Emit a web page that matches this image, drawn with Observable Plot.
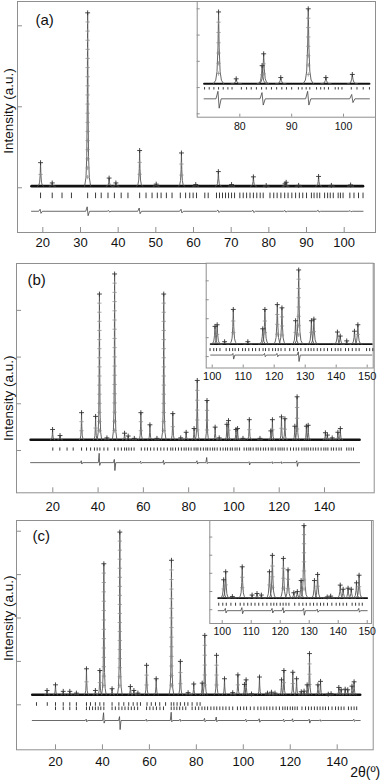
<!DOCTYPE html>
<html><head><meta charset="utf-8">
<script src="https://cdn.jsdelivr.net/npm/d3@7"></script>
<script src="https://cdn.jsdelivr.net/npm/@observablehq/plot@0.6"></script>
<style>
body{margin:0;background:#fff;font-family:"Liberation Sans",Arial,sans-serif;}
#wrap{position:relative;width:382px;height:780px;overflow:hidden;background:#fff;}
#wrap > div{position:absolute;}
svg{background:transparent !important;}
</style></head><body><div id="wrap"></div>
<script>
// ---------- DATA (2θ in degrees, intensity in arbitrary counts) ----------
const yLabel = "Intensity (a.u.)";
const xTitle = "2θ(º)";

// Panel (a)
const bgA = 20;
const rangeA = [17.0, 105.0];
const peaksA = [[19.4,310],[22.5,60],[31.9,2160],[37.6,120],[39.4,60],[45.7,460],[50.1,45],[56.8,430],[60.6,40],[66.6,200],[70.1,40],[75.9,135],[79.3,28],[84.3,49],[84.6,68],[87.9,30],[93.2,140],[96.6,30],[101.7,35]];
const reflA = [19.4,22.5,25.1,27.6,31.9,34.0,35.5,37.3,39.0,40.8,42.6,45.7,47.4,49.0,50.4,51.4,52.8,54.3,56.5,57.9,59.0,59.9,60.8,63.0,63.9,66.1,66.9,67.7,68.5,69.3,70.1,70.9,72.3,73.2,74.1,75.0,75.9,76.8,77.7,78.5,80.3,81.3,82.2,83.2,84.2,85.1,86.1,87.1,88.1,89.0,90.0,91.3,92.0,92.8,93.5,94.8,95.6,96.3,97.1,98.4,99.0,99.7,101.5,102.6,103.8,105.0];
const diffA = [[19.4,25,-25],[31.9,55,-55],[37.6,10,-10],[45.7,40,-30],[56.8,25,-20],[66.6,15,-15],[75.9,12,-15],[84.4,10,-10],[93.2,12,-10],[101.7,7,-6]];
const xTicksA = [20,30,40,50,60,70,80,90,100];
const yTicksA = [0,1000,2000];
const rangeInsetA = [73.1, 105.0];
const xTicksInsetA = [80,90,100];
const yTicksInsetA = [-28,14,56,98,140];

// Panel (b)
const bgB = 230;
const rangeB = [10.2, 155.5];
const peaksB = [[19.9,450],[23.2,320],[32.7,810],[38.9,730],[40.6,3350],[43.9,270],[47.3,3780],[51.7,370],[53.3,310],[56.0,260],[58.9,810],[62.9,550],[66.0,260],[69.0,3350],[73.0,790],[76.5,270],[78.9,390],[82.4,470],[83.8,1500],[88.1,1070],[91.7,500],[93.5,270],[96.9,560],[97.6,640],[100.9,450],[101.6,470],[104.0,260],[106.8,660],[111.5,260],[116.3,420],[117.0,660],[121.0,720],[122.5,680],[126.9,520],[127.9,1150],[132.0,520],[132.8,540],[140.4,380],[141.3,330],[143.4,270],[145.9,390],[147.0,470]];
const reflB = [20.0,23.1,26.3,29.0,32.7,34.9,36.7,38.4,39.6,40.8,42.6,44.3,47.3,48.8,50.3,51.7,52.6,53.6,54.7,55.9,59.1,60.6,61.8,63.2,64.7,66.2,67.7,69.1,70.6,72.1,73.0,74.2,75.5,76.8,78.0,78.9,80.0,81.1,82.4,83.3,84.1,85.3,86.5,87.6,88.4,89.5,90.6,91.5,92.6,94.0,95.2,96.3,97.2,98.4,99.3,100.5,101.4,102.5,104.5,105.6,106.6,107.4,108.5,109.8,110.7,111.8,113.0,114.0,115.2,116.4,117.2,118.3,119.5,120.4,121.3,122.2,123.5,125.0,126.3,127.5,128.6,130.0,131.0,131.9,132.8,133.9,135.0,136.1,137.2,138.5,139.7,140.6,141.5,143.0,144.0,145.2,146.4,147.4,149.8,150.8,151.8,152.8];
const diffB = [[32.7,40,-30],[40.6,200,-60],[47.3,70,-170],[58.9,30,-20],[69.0,50,-40],[83.8,40,-30],[88.1,110,-20],[106.8,20,-50],[117.0,20,-20],[121.0,20,-20],[127.9,40,-80]];
const xTicksB = [20,40,60,80,100,120,140];
const yTicksB = [0,1000,2000,3000];
const rangeInsetB = [99.5, 151.5];
const xTicksInsetB = [100,110,120,130,140,150];
const yTicksInsetB = [75,310,545,780,1015];

// Panel (c)
const bgC = 230;
const rangeC = [10.1, 149.8];
const peaksC = [[16.4,330],[20.0,460],[23.3,310],[26.1,310],[28.9,270],[33.2,830],[37.0,330],[38.9,790],[40.6,3250],[44.1,370],[47.4,3980],[51.9,420],[53.4,330],[55.1,270],[58.8,910],[62.9,600],[69.4,3330],[73.2,1000],[76.5,280],[78.9,480],[82.5,500],[83.6,1600],[88.6,1140],[92.0,600],[95.5,280],[97.7,690],[100.5,470],[101.2,575],[103.5,250],[106.9,640],[110.3,270],[112.0,290],[113.5,270],[116.3,575],[117.3,790],[121.1,750],[122.7,600],[124.7,300],[125.9,315],[127.2,460],[128.2,1180],[131.8,460],[132.9,540],[136.2,245],[137.4,256],[140.7,400],[141.7,346],[143.4,360],[144.5,346],[146.3,430],[147.2,530]];
const reflC1 = [11.9,16.5,20.0,23.3,26.1,28.9,33.2,34.9,37.0,38.9,40.6,44.1,47.0,49.1,51.2,53.1,54.8,56.2,59.0,60.8,62.6,64.4,66.9,69.3,70.4,71.8,73.2,75.0,76.4,78.2,80.3,81.6];
const reflC2 = [20.0,23.3,26.1,28.9,33.2,34.5,35.8,37.0,38.2,39.3,40.6,44.1,45.5,47.0,48.3,49.6,51.0,52.3,53.6,55.0,58.8,60.2,61.6,63.0,64.5,66.0,69.3,70.5,71.7,72.9,74.2,75.5,78.2,79.6,81.0,82.4,83.6,84.8,86.2,87.5,88.7,90.0,91.3,92.6,94.0,95.5,97.5,98.8,100.2,101.4,103.0,104.6,106.2,107.5,108.8,110.0,111.3,112.6,114.0,115.4,116.8,117.8,118.8,120.0,121.0,122.0,123.0,125.0,126.5,127.8,129.0,130.3,131.5,132.7,133.9,135.0,136.3,137.8,139.3,140.5,141.7,142.9,144.8,146.0,147.2,148.3];
const diffC = [[33.2,30,-30],[40.6,180,-60],[47.4,90,-210],[58.8,30,-20],[69.4,190,-30],[73.2,30,-20],[83.6,50,-30],[88.6,80,-30],[101.2,30,-30],[106.9,40,-40],[117.3,30,-30],[121.1,40,-30],[128.2,30,-60],[132.9,20,-20],[147.2,30,-20]];
const xTicksC = [20,40,60,80,100,120,140];
const yTicksC = [0,1000,2000,3000,4000];
const rangeInsetC = [98.6, 150.0];
const xTicksInsetC = [100,110,120,130,140,150];
const yTicksInsetC = [78,316,555,792,1030];

// ---------- DRAWING ----------
const FONT = "'Liberation Sans', Arial, sans-serif";
const FRAME = "#8f8f8f";
const SHAPE = [[-1,0],[-0.55,0.05],[-0.3,0.17],[-0.12,0.5],[0,1],[0.12,0.5],[0.3,0.17],[0.55,0.05],[1,0]];
const wrap = document.getElementById("wrap");

function panel(o) {
  const mL = o.fx0 - o.left, mR = o.left + o.width - o.fx1;
  const mT = o.fy0 - o.top, mB = o.top + o.height - o.fy1;
  const iw = o.fx1 - o.fx0, ih = o.fy1 - o.fy0;
  const pxPerY = ih / (o.yd[1] - o.yd[0]);
  const [xa, xb] = o.range;
  const pk = o.peaks.filter(([p]) => p >= xa && p <= xb);
  const shape = [];
  pk.forEach(([p, h], k) => {
    for (const [u, f] of SHAPE) shape.push({x: p + u * o.w, y: o.bg + f * (h - o.bg), k});
  });
  const tops = pk.map(([p, h]) => ({x: p, y: h}));
  const mids = pk.filter(([p, h]) => (h - o.bg) * pxPerY > 16).flatMap(([p, h]) => {
    const n = Math.floor((h - o.bg) * pxPerY / 9);
    return d3.range(1, n).map(i => ({x: p, y: o.bg + (i / n) * (h - o.bg)}));
  });
  const d0 = o.diffY;
  const dpts = [{x: xa, y: d0}];
  o.diff.filter(([p]) => p > xa + 0.5 && p < xb - 0.5).sort((a, b) => a[0] - b[0]).forEach(([p, up, dn]) => {
    dpts.push({x: p - 0.5, y: d0}, {x: p - 0.12, y: d0 + up}, {x: p + 0.12, y: d0 + dn}, {x: p + 0.5, y: d0});
  });
  dpts.push({x: xb, y: d0});
  const marks = [
    Plot.frame({fill: "white", stroke: FRAME, strokeWidth: 1}),
    Plot.ruleY(o.yTicks, {y: d => d, stroke: FRAME, insetRight: iw - o.tick}),
    Plot.ruleX(o.xTicks, {x: d => d, stroke: FRAME, insetTop: ih - o.tick}),
    Plot.axisX(o.xTicks, {tickSize: 0, tickPadding: o.pad, fontSize: o.fs, fill: "#111", fontFamily: FONT, tickFormat: d => String(d)}),
    Plot.line([{x: xa, y: o.bg}, {x: xb, y: o.bg}], {x: "x", y: "y", stroke: "#111", strokeWidth: o.bgw}),
    Plot.line(shape, {x: "x", y: "y", z: "k", stroke: "#555", strokeWidth: 0.9}),
    Plot.dot(mids, {x: "x", y: "y", symbol: "plus", r: 1.5, stroke: "#888", strokeWidth: 0.7}),
    Plot.dot(tops, {x: "x", y: "y", symbol: "plus", r: 1.7, stroke: "#333", strokeWidth: 0.9})
  ];
  for (const row of o.refl) {
    const list = row.list.filter(p => p >= xa - 0.5 && p <= xb + 0.5);
    const hl = row.len / pxPerY;
    marks.push(Plot.ruleX(list, {x: d => d, y1: () => row.y - hl, y2: () => row.y + hl, stroke: "#222", strokeWidth: 0.9}));
  }
  marks.push(Plot.line(dpts, {x: "x", y: "y", stroke: "#444", strokeWidth: 0.8}));
  if (o.tag) marks.push(Plot.text([o.tag.t], {frameAnchor: "top-left", dx: o.tag.dx, dy: o.tag.dy, fontSize: 15, textAnchor: "start", lineAnchor: "middle", fill: "#111", fontFamily: FONT}));
  if (o.ylab) marks.push(Plot.text([yLabel], {frameAnchor: "left", dx: o.ylab.dx, dy: o.ylab.dy, rotate: -90, fontSize: 13.5, textAnchor: "middle", lineAnchor: "middle", fill: "#111", fontFamily: FONT}));
  if (o.xtitle) marks.push(Plot.text([xTitle], {frameAnchor: "bottom-right", dx: o.xtitle.dx, dy: o.xtitle.dy, fontSize: 14, textAnchor: "middle", lineAnchor: "middle", fill: "#111", fontFamily: FONT}));
  const svg = Plot.plot({
    width: o.width, height: o.height,
    marginLeft: mL, marginRight: mR, marginTop: mT, marginBottom: mB,
    style: {background: "transparent", fontFamily: FONT, overflow: "visible"},
    x: {domain: o.xd, label: null},
    y: {domain: o.yd, axis: null},
    marks
  });
  const div = document.createElement("div");
  div.style.left = o.left + "px"; div.style.top = o.top + "px";
  div.appendChild(svg); wrap.appendChild(div);
}

// Panel (a) main
panel({left: 0, top: 0, width: 382, height: 252, fx0: 17, fx1: 375, fy0: 1, fy1: 232,
  xd: [13.28, 108.31], yd: [-552, 2300], range: rangeA, peaks: peaksA, bg: bgA, w: 0.8, bgw: 2.6,
  refl: [{list: reflA, y: -100, len: 2.8}], diff: diffA, diffY: -290,
  xTicks: xTicksA, yTicks: yTicksA, tick: 5, pad: 5, fs: 13,
  tag: {t: "(a)", dx: 18, dy: 19}, ylab: {dx: -9, dy: -6}});
// Panel (a) inset
panel({left: 190, top: 0, width: 192, height: 140, fx0: 196.7, fx1: 375, fy0: 1, fy1: 116.7,
  xd: [71.78, 106.17], yd: [-33.4, 151.7], range: rangeInsetA, peaks: peaksA, bg: bgA, w: 1.0, bgw: 2,
  refl: [{list: reflA, y: 12, len: 1.2}], diff: diffA, diffY: -4,
  xTicks: xTicksInsetA, yTicks: yTicksInsetA, tick: 3, pad: 5, fs: 10.5});

// Panel (b) main
panel({left: 0, top: 250, width: 382, height: 270, fx0: 16, fx1: 373.7, fy0: 263, fy1: 492.3,
  xd: [3.97, 161.95], yd: [-906, 4004], range: rangeB, peaks: peaksB, bg: bgB, w: 1.0, bgw: 2.6,
  refl: [{list: reflB, y: 20, len: 1.6}], diff: diffB, diffY: -260,
  xTicks: xTicksB, yTicks: yTicksB, tick: 5, pad: 9, fs: 13,
  tag: {t: "(b)", dx: 11, dy: 17}, ylab: {dx: -8, dy: 20}});
// Panel (b) inset
panel({left: 200, top: 255, width: 182, height: 140, fx0: 205.7, fx1: 372.7, fy0: 262.7, fy1: 367.5,
  xd: [98.06, 151.94], yd: [-66.3, 1233.7], range: rangeInsetB, peaks: peaksB, bg: bgB, w: 1.3, bgw: 1.8,
  refl: [{list: reflB, y: 156, len: 1.5}], diff: diffB, diffY: 94,
  xTicks: xTicksInsetB, yTicks: yTicksInsetB, tick: 3, pad: 4, fs: 11});

// Panel (c) main
panel({left: 0, top: 510, width: 382, height: 270, fx0: 16, fx1: 372.7, fy0: 520, fy1: 749.3,
  xd: [3.39, 155.34], yd: [-1037, 4247], range: rangeC, peaks: peaksC, bg: bgC, w: 1.0, bgw: 2.6,
  refl: [{list: reflC1, y: 7, len: 1.8}, {list: reflC2, y: -92, len: 1.8}], diff: diffC, diffY: -362,
  xTicks: xTicksC, yTicks: yTicksC, tick: 5, pad: 7, fs: 13,
  tag: {t: "(c)", dx: 16, dy: 15.5}, ylab: {dx: -8, dy: -17}, xtitle: {dx: -8, dy: 23}});
// Panel (c) inset
panel({left: 200, top: 512, width: 182, height: 140, fx0: 209.3, fx1: 371, fy0: 520, fy1: 623,
  xd: [95.72, 151.48], yd: [-103, 1247], range: rangeInsetC, peaks: peaksC, bg: bgC, w: 1.3, bgw: 1.8,
  refl: [{list: reflC2, y: 143, len: 1.5}], diff: diffC, diffY: 65,
  xTicks: xTicksInsetC, yTicks: yTicksInsetC, tick: 3, pad: 4, fs: 10.5});
</script>
</body></html>
